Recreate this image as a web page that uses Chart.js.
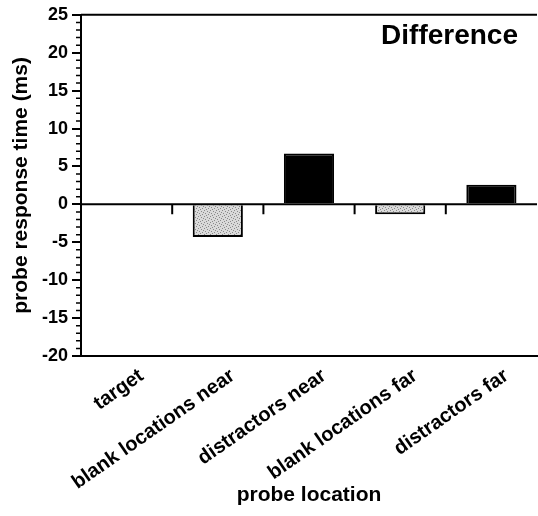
<!DOCTYPE html>
<html>
<head>
<meta charset="utf-8">
<script src="https://cdn.jsdelivr.net/npm/chart.js@4.4.1/dist/chart.umd.min.js"></script>
<style>
  html, body { margin: 0; padding: 0; background: #fff; }
</style>
</head>
<body>
<canvas id="diffChart" width="538" height="516"></canvas>
<script>
// probe location categories and the difference values (ms)
var categories = ['target', 'blank locations near', 'distractors near', 'blank locations far', 'distractors far'];
var differenceValues = [0, -4.3, 6.7, -1.3, 2.6];
var yMin = -20, yMax = 25, yStep = 5;

Chart.defaults.font.family = '"Liberation Sans", Arial, Helvetica, sans-serif';
Chart.defaults.font.weight = 'bold';
Chart.defaults.color = '#000';

// light stippled gray for the "blank" bars
function stipple() {
  var c = document.createElement('canvas');
  c.width = 6; c.height = 6;
  var g = c.getContext('2d');
  g.fillStyle = '#dadada';
  g.fillRect(0, 0, 6, 6);
  g.fillStyle = '#8a8a8a';
  [[0,0],[3,1],[1,3],[4,4],[2,5],[5,2]].forEach(function(p){ g.fillRect(p[0], p[1], 1, 1); });
  return g.createPattern(c, 'repeat');
}
var dots = stipple();
var barColors = categories.map(function(c){ return c.indexOf('blank') === 0 ? dots : '#000'; });

var decorations = {
  id: 'decorations',
  afterDatasetsDraw: function(chart) {
    var ctx = chart.ctx, a = chart.chartArea;
    var xs = chart.scales.x, ys = chart.scales.y;
    var y0 = ys.getPixelForValue(0);
    ctx.save();
    ctx.strokeStyle = '#000';
    ctx.lineWidth = 2;
    // top frame line
    ctx.beginPath();
    ctx.moveTo(a.left, a.top); ctx.lineTo(a.right, a.top);
    // zero line
    ctx.moveTo(a.left, y0); ctx.lineTo(a.right, y0);
    // category separators hanging from the zero line
    for (var i = 1; i < categories.length; i++) {
      var xb = (xs.getPixelForValue(i - 1) + xs.getPixelForValue(i)) / 2;
      ctx.moveTo(xb, y0); ctx.lineTo(xb, y0 + 10);
    }
    ctx.stroke();
    // minor ticks every 1 ms
    ctx.lineWidth = 1.5;
    ctx.beginPath();
    for (var v = yMin; v <= yMax; v++) {
      if (v % yStep === 0) continue;
      var py = ys.getPixelForValue(v);
      ctx.moveTo(a.left - 5, py); ctx.lineTo(a.left, py);
    }
    ctx.stroke();
    // panel label
    ctx.fillStyle = '#000';
    ctx.font = 'bold 28px "Liberation Sans", Arial, sans-serif';
    ctx.textAlign = 'right';
    ctx.textBaseline = 'middle';
    ctx.fillText('Difference', 518, 36);
    ctx.restore();
  }
};

new Chart(document.getElementById('diffChart').getContext('2d'), {
  type: 'bar',
  data: {
    labels: categories,
    datasets: [{
      data: differenceValues,
      backgroundColor: barColors,
      borderColor: '#000',
      borderWidth: 2,
      barPercentage: 0.55,
      categoryPercentage: 1
    }]
  },
  options: {
    responsive: false,
    animation: false,
    layout: { padding: { top: 13, right: 1, left: 0, bottom: 0 } },
    plugins: { legend: { display: false }, tooltip: { enabled: false } },
    scales: {
      x: {
        grid: { display: false },
        border: { display: true, color: '#000', width: 2 },
        ticks: {
          autoSkip: false,
          minRotation: 35,
          maxRotation: 35,
          labelOffset: 15,
          padding: 0,
          font: { size: 20, weight: 'bold' }
        },
        title: {
          display: true,
          text: 'probe location',
          font: { size: 21, weight: 'bold' },
          padding: { top: 0, bottom: 8 }
        },
        afterFit: function(s) { s.height = 160; }
      },
      y: {
        min: yMin,
        max: yMax,
        grid: { drawOnChartArea: false, drawTicks: true, tickLength: 9, color: '#000', lineWidth: 2 },
        border: { display: true, color: '#000', width: 2 },
        ticks: { stepSize: yStep, padding: 4, font: { size: 18, weight: 'bold' } },
        title: {
          display: true,
          text: 'probe response time (ms)',
          font: { size: 21, weight: 'bold' },
          padding: { top: 9, bottom: 0 }
        },
        afterFit: function(s) { s.width = 81; }
      }
    }
  },
  plugins: [decorations]
});
</script>
</body>
</html>
